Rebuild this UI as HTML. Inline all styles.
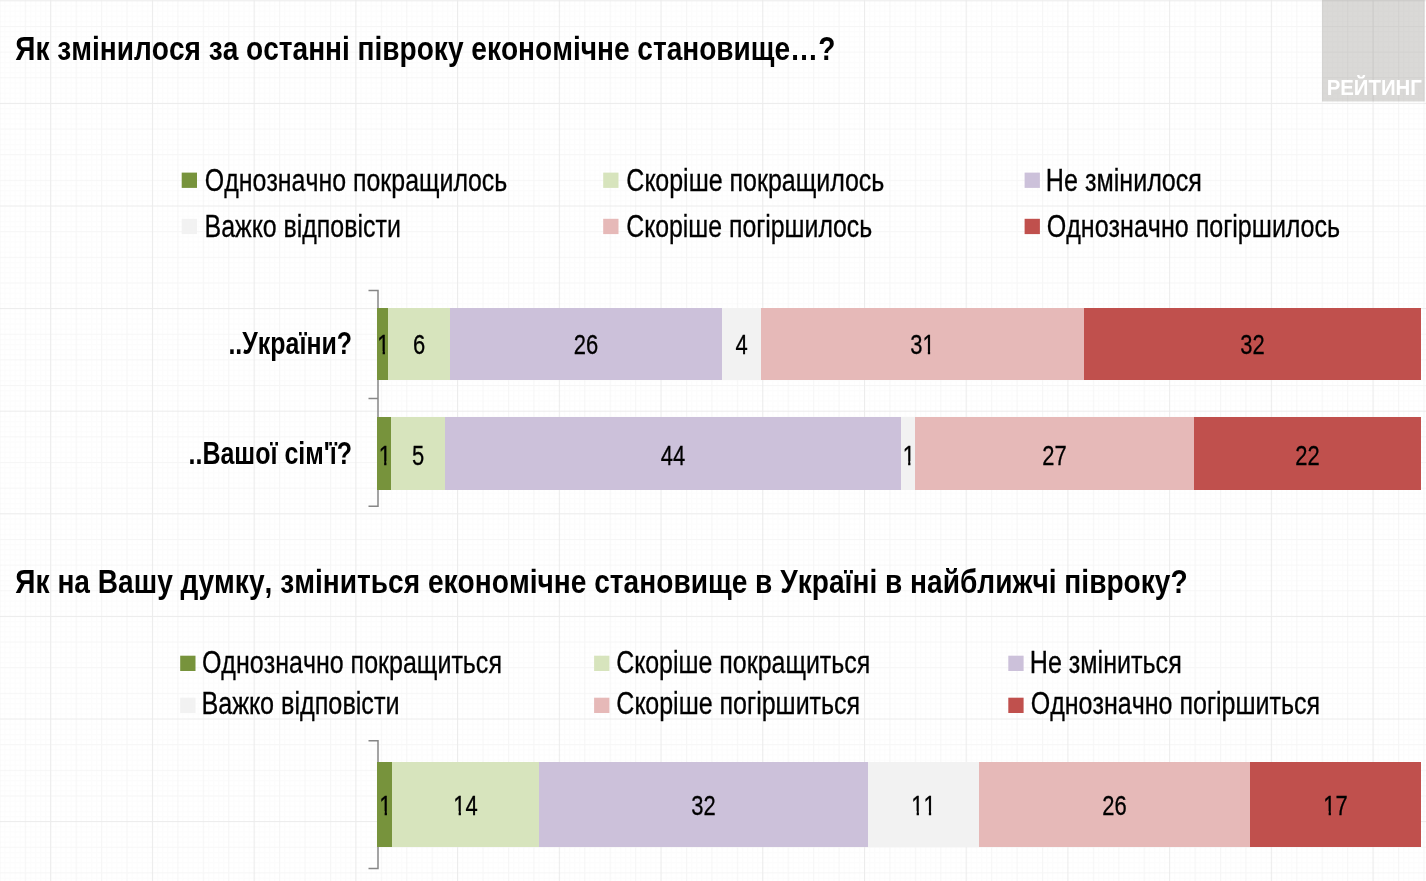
<!DOCTYPE html>
<html lang="uk">
<head>
<meta charset="utf-8">
<title>Рейтинг — економічне становище</title>
<style>
html,body{margin:0;padding:0;background:#fff;}
body{width:1426px;height:881px;overflow:hidden;font-family:"Liberation Sans", sans-serif;}
svg{display:block;font-family:"Liberation Sans", sans-serif;filter:blur(0.45px);font-kerning:none;}
</style>
</head>
<body>
<svg width="1426" height="881" viewBox="0 0 1426 881">
<defs>
<pattern id="minor" x="50.2" y="0.3" width="5.086" height="5.13" patternUnits="userSpaceOnUse">
<path d="M0.5 0V5.13M0 0.5H5.086" stroke="#000" stroke-opacity="0.01" stroke-width="1" fill="none"/>
</pattern>
<pattern id="major" x="50.2" y="0.3" width="25.43" height="25.65" patternUnits="userSpaceOnUse">
<path d="M0.5 0V25.65M0 0.5H25.43" stroke="#000" stroke-opacity="0.022" stroke-width="1" fill="none"/>
</pattern>
<pattern id="strong" x="50.2" y="0.3" width="101.72" height="102.6" patternUnits="userSpaceOnUse">
<path d="M0.5 0V102.6M0 0.5H101.72" stroke="#000" stroke-opacity="0.045" stroke-width="1" fill="none"/>
</pattern>
</defs>
<rect width="1426" height="881" fill="#fff"/>
<rect x="1322" y="-2" width="102.7" height="103.5" fill="#dad9d7"/>
<rect width="1426" height="881" fill="url(#minor)"/>
<rect width="1426" height="881" fill="url(#major)"/>
<rect width="1426" height="881" fill="url(#strong)"/>

<text x="1326.64" y="95.30" font-size="22.8" font-weight="bold" fill="#fff" textLength="95.26" lengthAdjust="spacingAndGlyphs">РЕЙТИНГ</text>
<text x="15.32" y="59.60" font-size="34" font-weight="bold" fill="#000" textLength="820.00" lengthAdjust="spacingAndGlyphs">Як змінилося за останні півроку економічне становище…?</text>
<text x="15.32" y="593.20" font-size="34" font-weight="bold" fill="#000" textLength="1172.30" lengthAdjust="spacingAndGlyphs">Як на Вашу думку, зміниться економічне становище в Україні в найближчі півроку?</text>
<rect x="181.7" y="172.6" width="15.3" height="15.3" fill="#77933c"/>
<text x="204.82" y="191.20" font-size="30.6" stroke="#000" stroke-width="0.3" fill="#000" textLength="302.50" lengthAdjust="spacingAndGlyphs">Однозначно покращилось</text>
<rect x="603.2" y="172.6" width="15.3" height="15.3" fill="#d7e4bd"/>
<text x="626.33" y="191.20" font-size="30.6" stroke="#000" stroke-width="0.3" fill="#000" textLength="257.99" lengthAdjust="spacingAndGlyphs">Скоріше покращилось</text>
<rect x="1024.6" y="172.6" width="15.3" height="15.3" fill="#ccc1da"/>
<text x="1045.84" y="191.20" font-size="30.6" stroke="#000" stroke-width="0.3" fill="#000" textLength="156.10" lengthAdjust="spacingAndGlyphs">Не змінилося</text>
<rect x="181.7" y="218.8" width="15.3" height="15.3" fill="#f2f2f2"/>
<text x="204.55" y="236.90" font-size="30.6" stroke="#000" stroke-width="0.3" fill="#000" textLength="196.28" lengthAdjust="spacingAndGlyphs">Важко відповісти</text>
<rect x="603.2" y="218.8" width="15.3" height="15.3" fill="#e6b9b8"/>
<text x="626.34" y="236.90" font-size="30.6" stroke="#000" stroke-width="0.3" fill="#000" textLength="245.78" lengthAdjust="spacingAndGlyphs">Скоріше погіршилось</text>
<rect x="1024.6" y="218.8" width="15.3" height="15.3" fill="#c0504d"/>
<text x="1046.71" y="236.90" font-size="30.6" stroke="#000" stroke-width="0.3" fill="#000" textLength="293.31" lengthAdjust="spacingAndGlyphs">Однозначно погіршилось</text>
<rect x="180.2" y="655.7" width="15.3" height="15.3" fill="#77933c"/>
<text x="201.92" y="672.90" font-size="30.6" stroke="#000" stroke-width="0.3" fill="#000" textLength="300.02" lengthAdjust="spacingAndGlyphs">Однозначно покращиться</text>
<rect x="594.1" y="655.7" width="15.3" height="15.3" fill="#d7e4bd"/>
<text x="616.33" y="672.90" font-size="30.6" stroke="#000" stroke-width="0.3" fill="#000" textLength="253.90" lengthAdjust="spacingAndGlyphs">Скоріше покращиться</text>
<rect x="1008.3" y="655.7" width="15.3" height="15.3" fill="#ccc1da"/>
<text x="1029.84" y="672.90" font-size="30.6" stroke="#000" stroke-width="0.3" fill="#000" textLength="151.90" lengthAdjust="spacingAndGlyphs">Не зміниться</text>
<rect x="180.2" y="697.7" width="15.3" height="15.3" fill="#f2f2f2"/>
<text x="201.43" y="714.10" font-size="30.6" stroke="#000" stroke-width="0.3" fill="#000" textLength="198.11" lengthAdjust="spacingAndGlyphs">Важко відповісти</text>
<rect x="594.1" y="697.7" width="15.3" height="15.3" fill="#e6b9b8"/>
<text x="616.33" y="714.10" font-size="30.6" stroke="#000" stroke-width="0.3" fill="#000" textLength="243.80" lengthAdjust="spacingAndGlyphs">Скоріше погіршиться</text>
<rect x="1008.3" y="697.7" width="15.3" height="15.3" fill="#c0504d"/>
<text x="1030.71" y="714.10" font-size="30.6" stroke="#000" stroke-width="0.3" fill="#000" textLength="289.42" lengthAdjust="spacingAndGlyphs">Однозначно погіршиться</text>
<text x="228.41" y="354.40" font-size="30.5" font-weight="bold" fill="#000" textLength="123.63" lengthAdjust="spacingAndGlyphs">..України?</text>
<text x="188.50" y="464.00" font-size="30.5" font-weight="bold" fill="#000" textLength="163.54" lengthAdjust="spacingAndGlyphs">..Вашої сім'ї?</text>
<path d="M368.5 290.6H378V506.2H368.5M368.5 398.4H378" fill="none" stroke="#868686" stroke-width="1.5"/>
<path d="M368.5 740.8H378V868.6H368.5" fill="none" stroke="#868686" stroke-width="1.5"/>
<rect x="377" y="308" width="11.00" height="72.00" fill="#77933c"/>
<rect x="388" y="308" width="62.00" height="72.00" fill="#d7e4bd"/>
<rect x="450" y="308" width="272.00" height="72.00" fill="#ccc1da"/>
<rect x="722" y="308" width="39.00" height="72.00" fill="#f2f2f2"/>
<rect x="761" y="308" width="323.00" height="72.00" fill="#e6b9b8"/>
<rect x="1084" y="308" width="337.00" height="72.00" fill="#c0504d"/>
<text transform="translate(383.40 354.30) scale(0.79 1)" text-anchor="middle" font-size="27.8" fill="#000" stroke="#000" stroke-width="0.3">1</text>
<rect x="377.67" y="351.00" width="4.97" height="5.00" fill="#77933c"/>
<rect x="384.94" y="351.00" width="3.06" height="5.00" fill="#77933c"/>
<rect x="388.00" y="351.00" width="1.73" height="5.00" fill="#d7e4bd"/>
<text transform="translate(419.00 354.30) scale(0.79 1)" text-anchor="middle" font-size="27.8" fill="#000" stroke="#000" stroke-width="0.3">6</text>
<text transform="translate(586.00 354.30) scale(0.79 1)" text-anchor="middle" font-size="27.8" fill="#000" stroke="#000" stroke-width="0.3">26</text>
<text transform="translate(741.50 354.30) scale(0.79 1)" text-anchor="middle" font-size="27.8" fill="#000" stroke="#000" stroke-width="0.3">4</text>
<text transform="translate(922.50 354.30) scale(0.79 1)" text-anchor="middle" font-size="27.8" fill="#000" stroke="#000" stroke-width="0.3">31</text>
<rect x="922.87" y="351.00" width="4.97" height="5.00" fill="#e6b9b8"/>
<rect x="930.14" y="351.00" width="4.80" height="5.00" fill="#e6b9b8"/>
<text transform="translate(1252.50 354.30) scale(0.79 1)" text-anchor="middle" font-size="27.8" fill="#000" stroke="#000" stroke-width="0.3">32</text>
<rect x="377" y="417" width="14.00" height="73.00" fill="#77933c"/>
<rect x="391" y="417" width="54.00" height="73.00" fill="#d7e4bd"/>
<rect x="445" y="417" width="456.00" height="73.00" fill="#ccc1da"/>
<rect x="901" y="417" width="14.00" height="73.00" fill="#f2f2f2"/>
<rect x="915" y="417" width="279.00" height="73.00" fill="#e6b9b8"/>
<rect x="1194" y="417" width="227.00" height="73.00" fill="#c0504d"/>
<text transform="translate(384.90 464.50) scale(0.79 1)" text-anchor="middle" font-size="27.8" fill="#000" stroke="#000" stroke-width="0.3">1</text>
<rect x="379.17" y="461.00" width="4.97" height="5.00" fill="#77933c"/>
<rect x="386.44" y="461.00" width="4.56" height="5.00" fill="#77933c"/>
<rect x="391.00" y="461.00" width="0.23" height="5.00" fill="#d7e4bd"/>
<text transform="translate(418.00 464.50) scale(0.79 1)" text-anchor="middle" font-size="27.8" fill="#000" stroke="#000" stroke-width="0.3">5</text>
<text transform="translate(673.00 464.50) scale(0.79 1)" text-anchor="middle" font-size="27.8" fill="#000" stroke="#000" stroke-width="0.3">44</text>
<text transform="translate(908.90 464.50) scale(0.79 1)" text-anchor="middle" font-size="27.8" fill="#000" stroke="#000" stroke-width="0.3">1</text>
<rect x="903.17" y="461.00" width="4.97" height="5.00" fill="#f2f2f2"/>
<rect x="910.44" y="461.00" width="4.56" height="5.00" fill="#f2f2f2"/>
<rect x="915.00" y="461.00" width="0.23" height="5.00" fill="#e6b9b8"/>
<text transform="translate(1054.50 464.50) scale(0.79 1)" text-anchor="middle" font-size="27.8" fill="#000" stroke="#000" stroke-width="0.3">27</text>
<text transform="translate(1307.50 464.50) scale(0.79 1)" text-anchor="middle" font-size="27.8" fill="#000" stroke="#000" stroke-width="0.3">22</text>
<rect x="377" y="762" width="15.00" height="85.00" fill="#77933c"/>
<rect x="392" y="762" width="147.00" height="85.00" fill="#d7e4bd"/>
<rect x="539" y="762" width="329.00" height="85.00" fill="#ccc1da"/>
<rect x="868" y="762" width="111.00" height="85.00" fill="#f2f2f2"/>
<rect x="979" y="762" width="271.00" height="85.00" fill="#e6b9b8"/>
<rect x="1250" y="762" width="171.00" height="85.00" fill="#c0504d"/>
<text transform="translate(385.40 814.60) scale(0.79 1)" text-anchor="middle" font-size="27.8" fill="#000" stroke="#000" stroke-width="0.3">1</text>
<rect x="379.67" y="811.00" width="4.97" height="5.00" fill="#77933c"/>
<rect x="386.94" y="811.00" width="4.80" height="5.00" fill="#77933c"/>
<text transform="translate(465.50 814.60) scale(0.79 1)" text-anchor="middle" font-size="27.8" fill="#000" stroke="#000" stroke-width="0.3">14</text>
<rect x="453.66" y="811.00" width="4.97" height="5.00" fill="#d7e4bd"/>
<rect x="460.93" y="811.00" width="4.80" height="5.00" fill="#d7e4bd"/>
<text transform="translate(703.50 814.60) scale(0.79 1)" text-anchor="middle" font-size="27.8" fill="#000" stroke="#000" stroke-width="0.3">32</text>
<text transform="translate(923.50 814.60) scale(0.79 1)" text-anchor="middle" font-size="27.8" fill="#000" stroke="#000" stroke-width="0.3">11</text>
<rect x="911.66" y="811.00" width="4.97" height="5.00" fill="#f2f2f2"/>
<rect x="918.93" y="811.00" width="4.80" height="5.00" fill="#f2f2f2"/>
<rect x="923.87" y="811.00" width="4.97" height="5.00" fill="#f2f2f2"/>
<rect x="931.14" y="811.00" width="4.80" height="5.00" fill="#f2f2f2"/>
<text transform="translate(1114.50 814.60) scale(0.79 1)" text-anchor="middle" font-size="27.8" fill="#000" stroke="#000" stroke-width="0.3">26</text>
<text transform="translate(1335.50 814.60) scale(0.79 1)" text-anchor="middle" font-size="27.8" fill="#000" stroke="#000" stroke-width="0.3">17</text>
<rect x="1323.66" y="811.00" width="4.97" height="5.00" fill="#c0504d"/>
<rect x="1330.93" y="811.00" width="4.80" height="5.00" fill="#c0504d"/>
</svg>
</body>
</html>
